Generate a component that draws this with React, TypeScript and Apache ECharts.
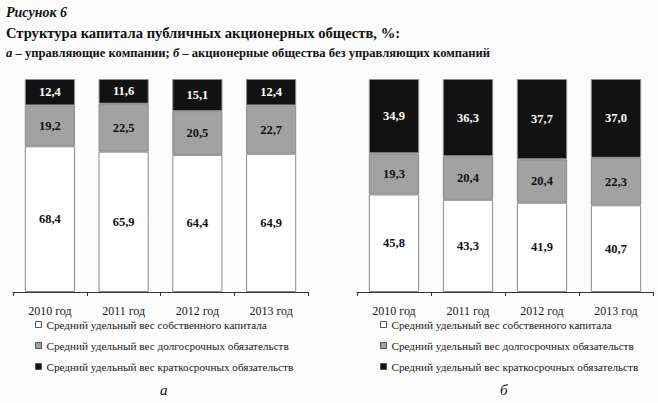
import React, { useEffect, useRef } from "react";
import * as echarts from "echarts";

const categories = ["2010 год", "2011 год", "2012 год", "2013 год"];
const seriesNames = [
  "Средний удельный вес собственного капитала",
  "Средний удельный вес долгосрочных обязательств",
  "Средний удельный вес краткосрочных обязательств",
];
// panel а – управляющие компании
const equityA = [68.4, 65.9, 64.4, 64.9];
const longTermA = [19.2, 22.5, 20.5, 22.7];
const shortTermA = [12.4, 11.6, 15.1, 12.4];
// panel б – акционерные общества без управляющих компаний
const equityB = [45.8, 43.3, 41.9, 40.7];
const longTermB = [19.3, 20.4, 20.4, 22.3];
const shortTermB = [34.9, 36.3, 37.7, 37.0];

const FONT = "Liberation Serif, serif";
const colors = ["#ffffff", "#a2a2a2", "#121212"];
const labelColors = ["#111", "#111", "#ffffff"];

export default function App() {
  const ref = useRef<HTMLDivElement>(null);
  useEffect(() => {
    if (!ref.current) return;
    const chart = echarts.init(ref.current, null, { renderer: "svg" });
    const panels = [
      [equityA, longTermA, shortTermA],
      [equityB, longTermB, shortTermB],
    ];
    const series: any[] = [];
    panels.forEach((p, gi) => {
      p.forEach((data, si) => {
        series.push({
          type: "bar",
          name: seriesNames[si],
          stack: "s" + gi,
          xAxisIndex: gi,
          yAxisIndex: gi,
          barCategoryGap: "32%",
          data,
          itemStyle: {
            color: colors[si],
            borderColor: "#8a8a8a",
            borderWidth: 1,
          },
          label: {
            show: true,
            position: "inside",
            color: labelColors[si],
            fontFamily: FONT,
            fontWeight: "bold",
            fontSize: 12.5,
            formatter: (v: any) => Number(v.value).toFixed(1).replace(".", ","),
          },
        });
      });
    });
    const xAxis = [0, 1].map((i) => ({
      type: "category",
      gridIndex: i,
      data: categories,
      axisLine: { lineStyle: { color: "#333", width: 1 } },
      axisTick: { show: true, length: 4, lineStyle: { color: "#333" } },
      axisLabel: {
        color: "#1a1a1a",
        fontFamily: FONT,
        fontSize: 12,
        margin: 13,
      },
    }));
    const yAxis = [0, 1].map((i) => ({
      type: "value",
      gridIndex: i,
      min: 0,
      max: 100,
      show: false,
    }));
    const legendText = { fontFamily: FONT, fontSize: 11.2, color: "#1a1a1a" };
    const legendBase = {
      orient: "vertical",
      icon: "rect",
      itemWidth: 6,
      itemHeight: 6,
      itemGap: 10,
      top: 319,
      textStyle: legendText,
      itemStyle: { borderColor: "#555", borderWidth: 1 },
      data: seriesNames.map((n) => ({ name: n, textStyle: legendText })),
      padding: 0,
    };
    const titleStyle = { fontFamily: FONT, fontSize: 12.6, fontWeight: "bold", color: "#111" };
    chart.setOption({
      animation: false,
      backgroundColor: "#fcfcfc",
      title: [
        {
          text: "Рисунок 6",
          left: 6,
          top: 5,
          padding: 0,
          textStyle: { ...titleStyle, fontSize: 14, fontStyle: "italic" },
        },
        {
          text: "Структура капитала публичных акционерных обществ, %:",
          left: 6,
          top: 25,
          padding: 0,
          textStyle: { ...titleStyle, fontSize: 14.6 },
        },
        {
          text: "{i|а} – управляющие компании; {i|б} – акционерные общества без управляющих компаний",
          left: 6,
          top: 46,
          padding: 0,
          textStyle: {
            ...titleStyle,
            rich: {
              i: { ...titleStyle, fontStyle: "italic" },
            },
          },
        },
        {
          text: "а",
          left: 160,
          top: 382,
          padding: 0,
          textStyle: { fontFamily: FONT, fontSize: 15, fontWeight: "normal", fontStyle: "italic", color: "#111" },
        },
        {
          text: "б",
          left: 500,
          top: 382,
          padding: 0,
          textStyle: { fontFamily: FONT, fontSize: 15, fontWeight: "normal", fontStyle: "italic", color: "#111" },
        },
      ],
      grid: [
        { left: 13, right: 350, top: 79, bottom: 111 },
        { left: 357, right: 5, top: 79, bottom: 111 },
      ],
      xAxis,
      yAxis,
      legend: [
        { ...legendBase, left: 35 },
        { ...legendBase, left: 380 },
      ],
      series,
    });
    return () => chart.dispose();
  }, []);
  return <div ref={ref} style={{ width: 658, height: 403, position: "absolute", left: 0, top: 0 }} />;
}
